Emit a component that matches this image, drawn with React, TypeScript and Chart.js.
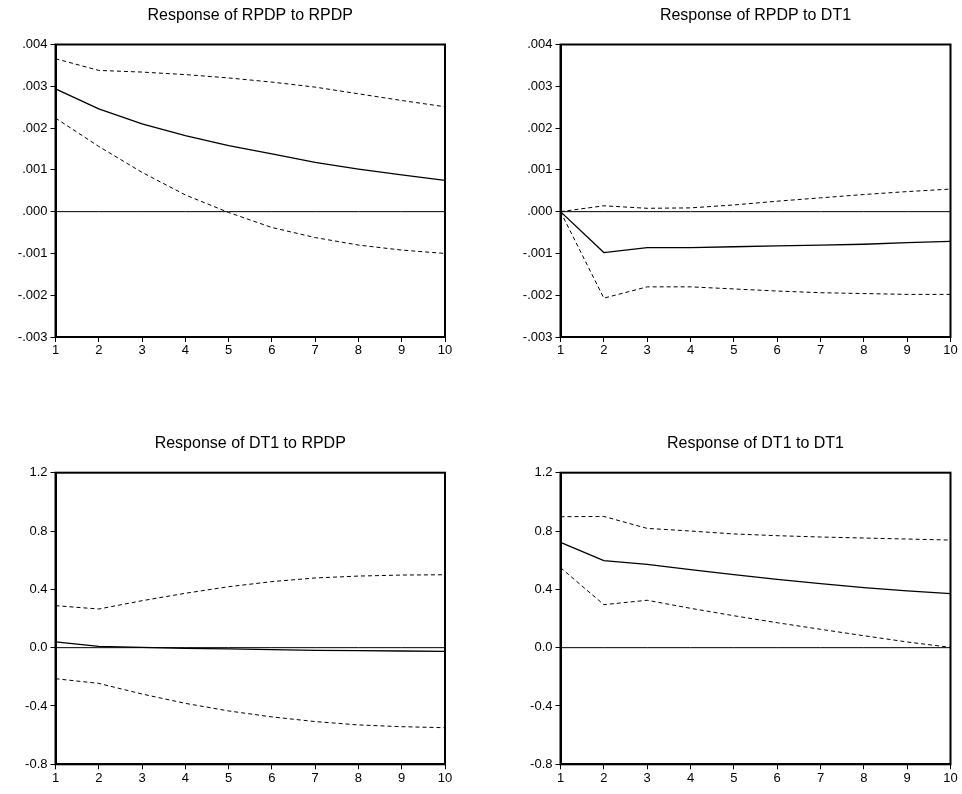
import React, { useEffect, useRef } from "react";
import { Chart, registerables } from "chart.js";

Chart.register(...registerables);

const periods = [1, 2, 3, 4, 5, 6, 7, 8, 9, 10];
const zeroLine = [0, 0, 0, 0, 0, 0, 0, 0, 0, 0];

const rpdpToRpdp = [0.00294, 0.00246, 0.0021, 0.00182, 0.00158, 0.00138, 0.00118, 0.00102, 0.00088, 0.00075];
const rpdpToRpdpUpper = [0.00366, 0.00338, 0.00334, 0.00328, 0.0032, 0.0031, 0.00298, 0.00282, 0.00266, 0.00251];
const rpdpToRpdpLower = [0.00224, 0.00156, 0.00094, 0.0004, -0.00002, -0.00038, -0.00062, -0.0008, -0.00092, -0.001];

const rpdpToDt1 = [0, -0.00098, -0.00086, -0.00086, -0.00084, -0.00082, -0.0008, -0.00078, -0.00074, -0.00071];
const rpdpToDt1Upper = [0, 0.00014, 0.00008, 0.00009, 0.00016, 0.00025, 0.00033, 0.00041, 0.00048, 0.00054];
const rpdpToDt1Lower = [0, -0.00207, -0.0018, -0.0018, -0.00185, -0.0019, -0.00194, -0.00196, -0.00198, -0.00198];

const dt1ToRpdp = [0.039, 0.009, 0.002, -0.005, -0.009, -0.014, -0.018, -0.021, -0.023, -0.025];
const dt1ToRpdpUpper = [0.288, 0.265, 0.322, 0.373, 0.418, 0.453, 0.478, 0.491, 0.498, 0.5];
const dt1ToRpdpLower = [-0.213, -0.245, -0.318, -0.382, -0.434, -0.475, -0.507, -0.53, -0.542, -0.549];

const dt1ToDt1 = [0.722, 0.597, 0.571, 0.535, 0.501, 0.469, 0.439, 0.412, 0.389, 0.37];
const dt1ToDt1Upper = [0.898, 0.9, 0.818, 0.8, 0.78, 0.768, 0.759, 0.752, 0.745, 0.738];
const dt1ToDt1Lower = [0.549, 0.295, 0.325, 0.27, 0.219, 0.171, 0.126, 0.082, 0.039, 0.002];

const titles = [
  "Response of RPDP to RPDP",
  "Response of RPDP to DT1",
  "Response of DT1 to RPDP",
  "Response of DT1 to DT1",
];

const FONT = "'Liberation Sans', Arial, Helvetica, sans-serif";

type PanelCfg = {
  title: string;
  mid: number[];
  upper: number[];
  lower: number[];
  yMin: number;
  yMax: number;
  yStep: number;
  decimals: number;
  leadingZero: boolean;
  left: number;
  top: number;
  yAxisWidth: number;
  padRight: number;
  padTop: number;
  xAxisHeight: number;
  titleY: number;
};

const W = 481;
const H = 397;

const panels: PanelCfg[] = [
  {
    title: titles[0], mid: rpdpToRpdp, upper: rpdpToRpdpUpper, lower: rpdpToRpdpLower,
    yMin: -0.003, yMax: 0.004, yStep: 0.001, decimals: 3, leadingZero: false,
    left: 0, top: 0, yAxisWidth: 55.5, padRight: 36, padTop: 44.5, xAxisHeight: 60, titleY: 20,
  },
  {
    title: titles[1], mid: rpdpToDt1, upper: rpdpToDt1Upper, lower: rpdpToDt1Lower,
    yMin: -0.003, yMax: 0.004, yStep: 0.001, decimals: 3, leadingZero: false,
    left: 481, top: 0, yAxisWidth: 79.5, padRight: 11.5, padTop: 44.5, xAxisHeight: 60, titleY: 20,
  },
  {
    title: titles[2], mid: dt1ToRpdp, upper: dt1ToRpdpUpper, lower: dt1ToRpdpLower,
    yMin: -0.8, yMax: 1.2, yStep: 0.4, decimals: 1, leadingZero: true,
    left: 0, top: 397, yAxisWidth: 55.5, padRight: 36, padTop: 75.7, xAxisHeight: 29.7, titleY: 51,
  },
  {
    title: titles[3], mid: dt1ToDt1, upper: dt1ToDt1Upper, lower: dt1ToDt1Lower,
    yMin: -0.8, yMax: 1.2, yStep: 0.4, decimals: 1, leadingZero: true,
    left: 481, top: 397, yAxisWidth: 79.5, padRight: 11.5, padTop: 75.7, xAxisHeight: 29.7, titleY: 51,
  },
];

function fmt(v: number, decimals: number, leadingZero: boolean) {
  const r = Math.round(v * Math.pow(10, decimals)) / Math.pow(10, decimals);
  let s = Math.abs(r).toFixed(decimals);
  if (!leadingZero) s = s.replace(/^0/, "");
  return (r < 0 ? "-" : "") + s;
}

const framePlugin = {
  id: "frameAndTitle",
  afterDraw(chart: any, _args: any, opts: any) {
    const { ctx, chartArea } = chart;
    ctx.save();
    ctx.strokeStyle = "#000";
    ctx.lineWidth = 2;
    ctx.strokeRect(chartArea.left, chartArea.top, chartArea.right - chartArea.left, chartArea.bottom - chartArea.top);
    ctx.font = `16px ${FONT}`;
    ctx.fillStyle = "#000";
    ctx.textAlign = "center";
    ctx.textBaseline = "alphabetic";
    ctx.fillText(opts.text, (chartArea.left + chartArea.right) / 2, opts.y);
    ctx.restore();
  },
};

function Panel({ cfg }: { cfg: PanelCfg }) {
  const ref = useRef<HTMLCanvasElement | null>(null);
  useEffect(() => {
    if (!ref.current) return;
    const dashed = { borderDash: [4, 3], borderWidth: 1 };
    const chart = new Chart(ref.current, {
      type: "line",
      data: {
        labels: periods,
        datasets: [
          { data: zeroLine, borderColor: "#000", borderWidth: 1, pointRadius: 0 },
          { data: cfg.upper, borderColor: "#000", pointRadius: 0, ...dashed },
          { data: cfg.lower, borderColor: "#000", pointRadius: 0, ...dashed },
          { data: cfg.mid, borderColor: "#000", borderWidth: 1.3, pointRadius: 0 },
        ].map((d) => ({ ...d, tension: 0, fill: false, data: d.data.map((y, i) => ({ x: periods[i], y })) })),
      },
      options: {
        animation: false,
        responsive: false,
        maintainAspectRatio: false,
        events: [],
        layout: { padding: { top: cfg.padTop, right: cfg.padRight, left: 0, bottom: 0 } },
        plugins: {
          legend: { display: false },
          tooltip: { enabled: false },
          title: { display: false },
          frameAndTitle: { text: cfg.title, y: cfg.titleY },
        } as any,
        scales: {
          x: {
            type: "linear",
            min: 1,
            max: 10,
            afterFit: (s: any) => { s.height = cfg.xAxisHeight; },
            ticks: {
              stepSize: 1,
              color: "#000",
              padding: 1,
              font: { family: FONT, size: 13 },
              maxRotation: 0,
              autoSkip: false,
            },
            grid: { display: true, drawOnChartArea: false, drawTicks: true, tickLength: 5, color: "#000", lineWidth: 1 },
            border: { display: true, color: "#000", width: 2 },
          },
          y: {
            type: "linear",
            min: cfg.yMin,
            max: cfg.yMax,
            afterFit: (s: any) => { s.width = cfg.yAxisWidth; },
            ticks: {
              stepSize: cfg.yStep,
              color: "#000",
              padding: 3,
              font: { family: FONT, size: 13 },
              callback: (v: any) => fmt(Number(v), cfg.decimals, cfg.leadingZero),
            },
            grid: { display: true, drawOnChartArea: false, drawTicks: true, tickLength: 5, color: "#000", lineWidth: 1 },
            border: { display: true, color: "#000", width: 2 },
          },
        },
      } as any,
      plugins: [framePlugin],
    });
    return () => chart.destroy();
  }, [cfg]);
  return (
    <canvas
      ref={ref}
      width={W}
      height={H}
      style={{ position: "absolute", left: cfg.left, top: cfg.top, width: W, height: H }}
    />
  );
}

export default function App() {
  return (
    <div style={{ position: "fixed", left: 0, top: 0, width: 962, height: 794, background: "#fff" }}>
      {panels.map((p, i) => (
        <Panel key={i} cfg={p} />
      ))}
    </div>
  );
}
